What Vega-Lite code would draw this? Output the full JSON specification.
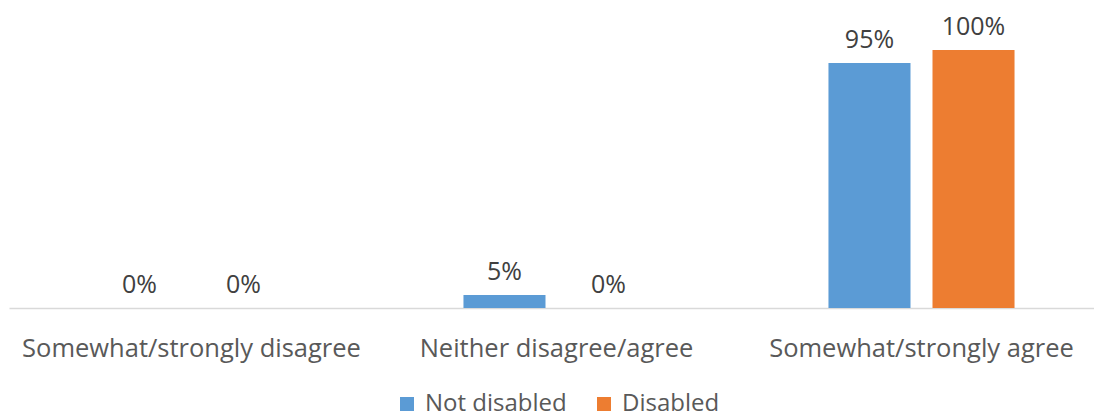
{
  "$schema": "https://vega.github.io/schema/vega-lite/v6.json",
  "autosize": "none",
  "width": 1085,
  "height": 308,
  "padding": {"left": 9, "top": 0, "right": 0, "bottom": 111},
  "background": "white",
  "config": {"view": {"stroke": null}, "font": "Open Sans"},
  "data": {"values": [
    {"category": "Somewhat/strongly disagree", "group": "Not disabled", "value": 0},
    {"category": "Somewhat/strongly disagree", "group": "Disabled", "value": 0},
    {"category": "Neither disagree/agree", "group": "Not disabled", "value": 0.05},
    {"category": "Neither disagree/agree", "group": "Disabled", "value": 0},
    {"category": "Somewhat/strongly agree", "group": "Not disabled", "value": 0.95},
    {"category": "Somewhat/strongly agree", "group": "Disabled", "value": 1.0}
  ]},
  "encoding": {
    "x": {"field": "category", "type": "nominal", "sort": null,
      "scale": {"paddingInner": 0, "paddingOuter": 0, "range": [0, 1095]},
      "axis": {"title": null, "labelAngle": 0, "labelFontSize": 25.5, "labelLimit": 500, "labelColor": "#595959", "labelPadding": 28, "ticks": false, "domainColor": "#d9d9d9", "domainWidth": 1.5, "labelFont": "Open Sans"}},
    "xOffset": {"field": "group", "type": "nominal", "sort": ["Not disabled", "Disabled"],
      "scale": {"paddingInner": 0.2115, "paddingOuter": 0.86}},
    "y": {"field": "value", "type": "quantitative", "scale": {"domain": [0, 1.194]}, "axis": null}
  },
  "layer": [
    {"mark": {"type": "bar"},
      "encoding": {"color": {"field": "group", "type": "nominal", "sort": ["Not disabled", "Disabled"],
        "scale": {"domain": ["Not disabled", "Disabled"], "range": ["#5B9BD5", "#ED7D31"]},
        "legend": {"title": null, "orient": "none", "direction": "horizontal", "legendX": 386, "legendY": 392, "symbolType": "square", "symbolSize": 196, "symbolStrokeWidth": 0, "labelFontSize": 24, "labelColor": "#595959", "columnPadding": 25, "labelOffset": 6, "labelFont": "Open Sans"}}}},
    {"mark": {"type": "text", "baseline": "bottom", "dy": -10, "fontSize": 25, "color": "#404040", "font": "Open Sans"},
      "encoding": {"text": {"field": "value", "type": "quantitative", "format": ".0%"}}}
  ]
}
